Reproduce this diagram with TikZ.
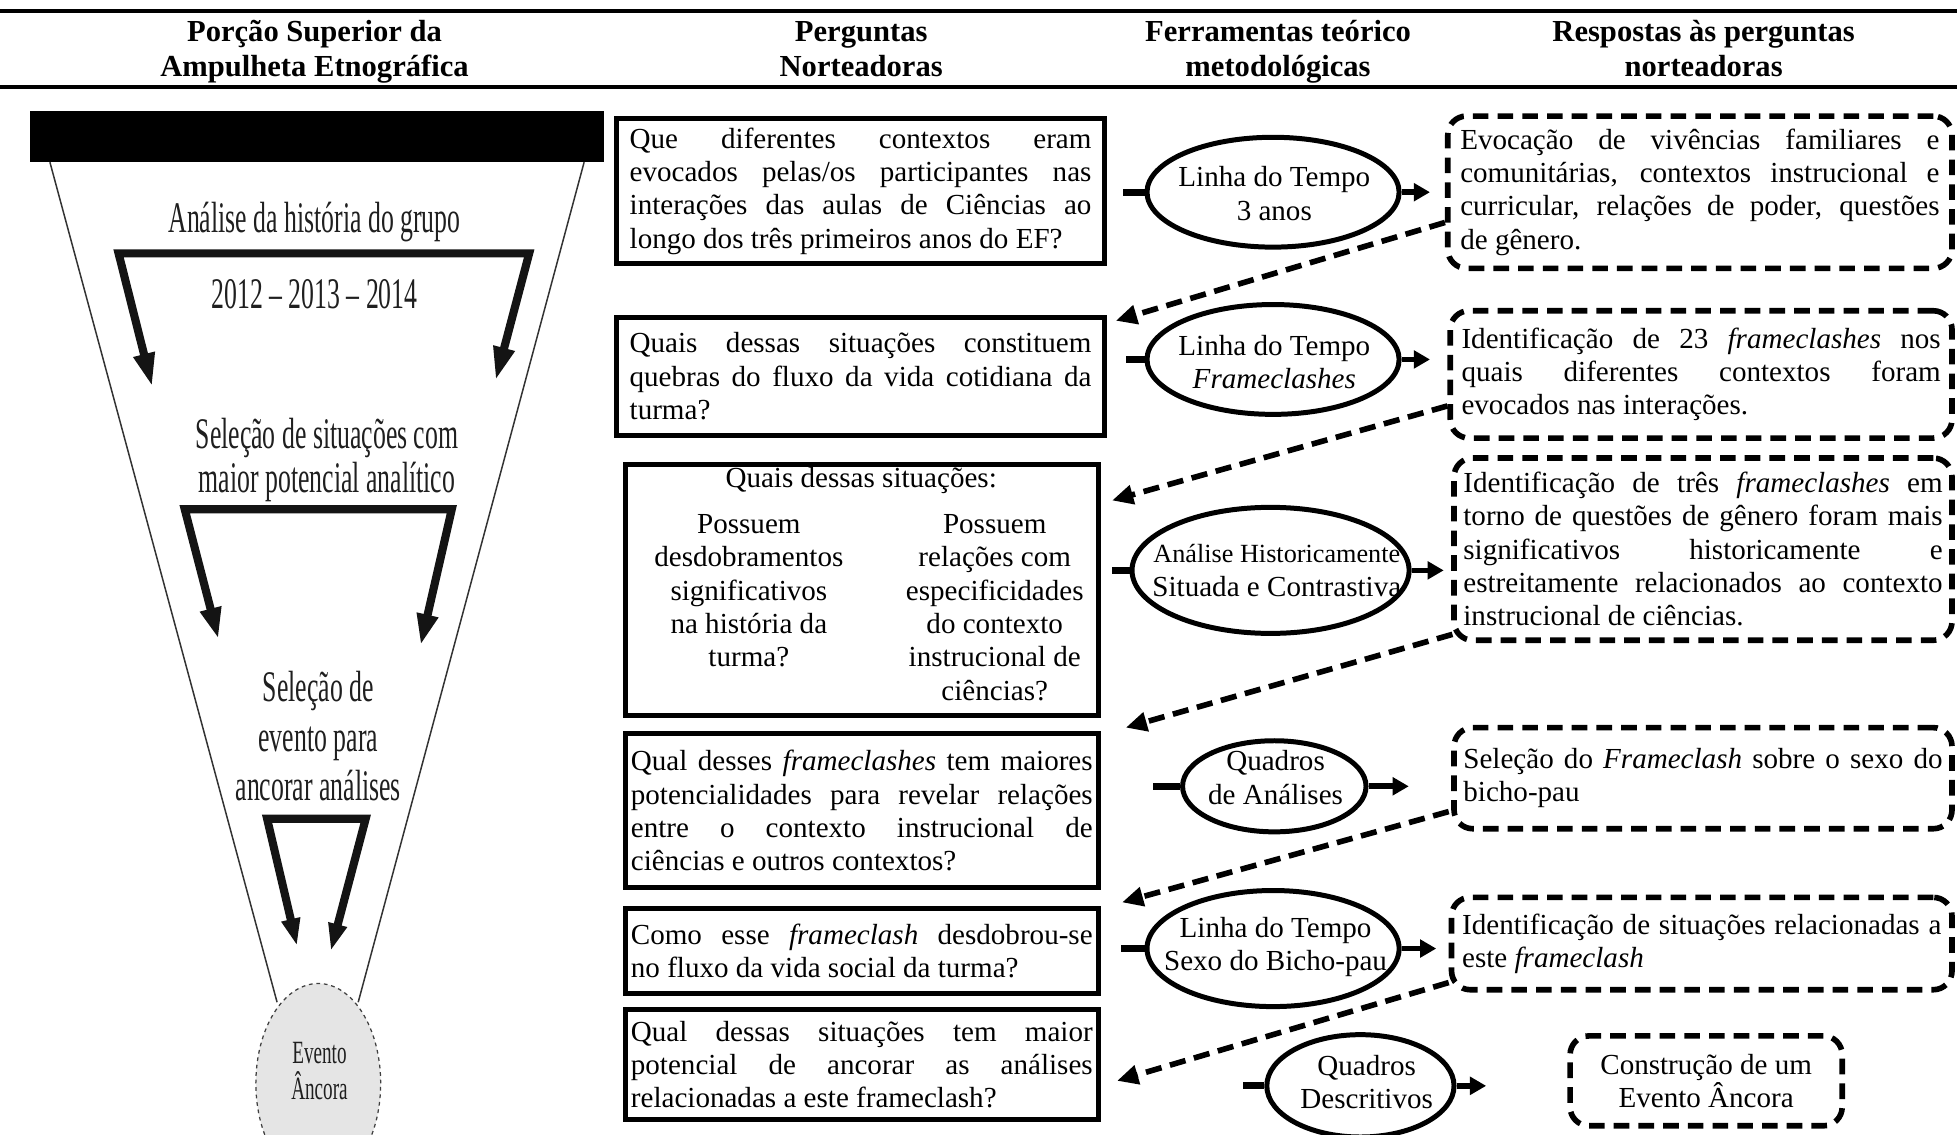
\documentclass[tikz,border=0pt]{standalone}
\usepackage{fontspec}
\setmainfont{Liberation Serif}
\newfontfamily\narrowserif[FakeStretch=0.59]{Liberation Serif}
\usetikzlibrary{arrows.meta,shapes.geometric,calc}
\newcommand\qfont{\fontsize{23.3}{26.7}\selectfont}
\newcommand\hgfont{\narrowserif\fontsize{35}{38}\selectfont}
\newcommand\hgsmall{\narrowserif\fontsize{26}{29}\selectfont}
\tolerance=10000
\hbadness=10000
\hyphenpenalty=10000
\exhyphenpenalty=10000

\begin{document}
\begin{tikzpicture}[x=1pt,y=-1pt,
  rule/.style={line width=3.4pt},
  headtext/.style={font=\bfseries\fontsize{24.5}{27.6}\selectfont, inner sep=0pt, anchor=base},
  qbox/.style={draw, line width=4pt, inner sep=0pt, text width=370pt, align=justify, font=\qfont},
  abox/.style={draw, line width=4.5pt, dash pattern=on 12.5pt off 7.3pt, rounded corners=15pt,
               inner sep=0pt, text width=384pt, align=justify, font=\qfont},
  tool/.style={draw, ellipse, line width=4pt, inner sep=0pt},
  tooltext/.style={align=center, font=\qfont, inner sep=0pt},
  stub/.style={line width=5.5pt},
  toarrow/.style={line width=4.5pt, -{Triangle[length=13pt,width=14pt]}},
  backarrow/.style={line width=4.5pt, dash pattern=on 13pt off 7pt, -{Triangle[length=17pt,width=15pt]}},
  hgtext/.style={font=\hgfont, inner sep=0pt, text=black!88, anchor=base},
  bracket/.style={line width=6.5pt, line join=miter, black!92},
]
\useasboundingbox (0,0) rectangle (1568,909);
\clip (0,0) rectangle (1568,909);

% ---------- header ----------
\draw[rule] (0,9) -- (1568,9);
\draw[rule] (0,70) -- (1568,70);
\node[headtext] (h1a) at (252,33.5) {Porção Superior da};
\node[headtext] (h1b) at (252,61) {Ampulheta Etnográfica};
\node[headtext] (h2a) at (690,33.5) {Perguntas};
\node[headtext] (h2b) at (690,61) {Norteadoras};
\node[headtext] (h3a) at (1024,33.5) {Ferramentas teórico};
\node[headtext] (h3b) at (1024,61) {metodológicas};
\node[headtext] (h4a) at (1365,33.5) {Respostas às perguntas};
\node[headtext] (h4b) at (1365,61) {norteadoras};

% ---------- upper half of the hourglass ----------
\fill (24,89) rectangle (484,130);
\draw[line width=1.2pt, black!80] (40,130) -- (222,803);
\draw[line width=1.2pt, black!80] (468,130) -- (287,803);
\node[ellipse, draw=black!75, dashed, fill=black!10, line width=1pt,
      minimum width=100pt, minimum height=160pt, inner sep=0pt] (anchorev) at (255,868) {};
\node[hgtext, font=\hgsmall] (ev1) at (256,852) {Evento};
\node[hgtext, font=\hgsmall] (ev2) at (256,881) {Âncora};

\node[hgtext] (hg1) at (252,186) {Análise da história do grupo};
\node[hgtext] (hg2) at (252,247) {2012 – 2013 – 2014};
\node[hgtext] (hg3) at (262,359) {Seleção de situações com};
\node[hgtext] (hg4) at (262,395) {maior potencial analítico};
\node[hgtext] (hg5) at (255,562) {Seleção de};
\node[hgtext] (hg6) at (255,602) {evento para};
\node[hgtext] (hg7) at (255,641) {ancorar análises};

\draw[bracket, {Triangle[length=27pt,width=16pt]}-{Triangle[length=27pt,width=16pt]}]
  (122,310) -- (95,203) -- (424,203) -- (397,305);
\draw[bracket, {Triangle[length=25pt,width=16pt]}-{Triangle[length=25pt,width=16pt]}]
  (175,512) -- (148,408) -- (362,408) -- (337,517);
\draw[bracket, {Triangle[length=22pt,width=14pt]}-{Triangle[length=22pt,width=14pt]}]
  (238,758) -- (214,656) -- (293,656) -- (265,762);

% ---------- guiding questions ----------
\node[qbox, minimum width=391pt, minimum height=116pt] (q1) at (689.5,153)
  {Que diferentes contextos eram\linebreak evocados pelas/os participantes nas\linebreak
   interações das aulas de Ciências ao\linebreak longo dos três primeiros anos do EF?};
\node[qbox, minimum width=391pt, minimum height=95pt] (q2) at (689.5,301.5)
  {Quais dessas situações constituem\linebreak quebras do fluxo da vida cotidiana da\linebreak turma?};
\node[qbox, minimum width=379pt, minimum height=201pt] (q3) at (690.5,472.5) {};
\node[tooltext] (q3t) at (690,385) {Quais dessas situações:};
\node[tooltext, anchor=north] (q3l) at (600,412)
  {Possuem\\desdobramentos\\significativos\\na história da\\turma?};
\node[tooltext, anchor=north] (q3r) at (797,412)
  {Possuem\\relações com\\especificidades\\do contexto\\instrucional de\\ciências?};
\node[qbox, minimum width=379pt, minimum height=123pt] (q4) at (690.5,649.5)
  {Qual desses \textit{frameclashes} tem maiores\linebreak potencialidades para revelar relações\linebreak
   entre o contexto instrucional de\linebreak ciências e outros contextos?};
\node[qbox, minimum width=379pt, minimum height=68pt] (q5) at (690.5,762)
  {Como esse \textit{frameclash} desdobrou-se\linebreak no fluxo da vida social da turma?};
\node[qbox, minimum width=379pt, minimum height=88pt] (q6) at (690.5,853)
  {Qual dessas situações tem maior\linebreak potencial de ancorar as análises\linebreak
   relacionadas a este frameclash?};

% ---------- theoretical-methodological tools ----------
\node[tool, minimum width=202pt, minimum height=88pt] (e1) at (1020,154) {};
\node[tooltext] (e1t) at (1021,155) {Linha do Tempo\\3 anos};
\node[tool, minimum width=202pt, minimum height=88pt] (e2) at (1020,288) {};
\node[tooltext] (e2t) at (1021,290) {Linha do Tempo\\\textit{Frameclashes}};
\node[tool, minimum width=222pt, minimum height=101pt] (e3) at (1018,457) {};
\node[tooltext] (e3t) at (1023,457)
  {{\fontsize{21}{26}\selectfont Análise Historicamente}\\Situada e Contrastiva};
\node[tool, minimum width=147pt, minimum height=73pt] (e4) at (1021,630) {};
\node[tooltext] (e4t) at (1022,623) {Quadros\\de Análises};
\node[tool, minimum width=202pt, minimum height=93pt] (e5) at (1020,760) {};
\node[tooltext] (e5t) at (1022,759) {Linha do Tempo\\Sexo do Bicho-pau};
\node[tool, minimum width=150pt, minimum height=82pt] (e6) at (1090,870) {};
\node[tooltext] (e6t) at (1095,867) {Quadros\\Descritivos};

% ---------- answers ----------
\node[abox, minimum width=404pt, minimum height=122pt] (a1) at (1362,154)
  {Evocação de vivências familiares e\linebreak comunitárias, contextos instrucional e\linebreak
   curricular, relações de poder, questões\linebreak de gênero.};
\node[abox, minimum width=402pt, minimum height=102pt] (a2) at (1363,300)
  {Identificação de 23 \textit{frameclashes} nos\linebreak quais diferentes contextos foram\linebreak
   evocados nas interações.};
\node[abox, minimum width=399pt, minimum height=146pt] (a3) at (1364.5,440)
  {Identificação de três \textit{frameclashes} em\linebreak torno de questões de gênero foram mais\linebreak
   significativos historicamente e\linebreak estreitamente relacionados ao contexto\linebreak
   instrucional de ciências.};
\node[abox, minimum width=399pt, minimum height=81pt] (a4) at (1364.5,623.5)
  {Seleção do \textit{Frameclash} sobre o sexo do\linebreak bicho-pau};
\node[abox, minimum width=401pt, minimum height=74pt] (a5) at (1363.5,756)
  {Identificação de situações relacionadas a\linebreak este \textit{frameclash}};
\node[abox, text width=, align=center, minimum width=218pt, minimum height=72pt] (a6) at (1367,866)
  {Construção de um\\Evento Âncora};

% ---------- connectors: question -> tool -> answer ----------
\draw[stub] (e1.west) -- ([xshift=-17pt]e1.west);
\draw[stub] (e2.west) -- ([xshift=-15pt]e2.west);
\draw[stub] (e3.west) -- ([xshift=-14pt]e3.west);
\draw[stub] (e4.west) -- ([xshift=-22pt]e4.west);
\draw[stub] (e5.west) -- ([xshift=-19pt]e5.west);
\draw[stub] (e6.west) -- ([xshift=-17pt]e6.west);

\draw[toarrow, shorten >=12pt] (e1.east) -- (e1.east -| a1.west);
\draw[toarrow, shorten >=14pt] (e2.east) -- (e2.east -| a2.west);
\draw[toarrow, shorten >=6pt]  (e3.east) -- (e3.east -| a3.west);
\draw[toarrow, shorten >=34pt] (e4.east) -- (e4.east -| a4.west);
\draw[toarrow, shorten >=10pt] (e5.east) -- (e5.east -| a5.west);
\draw[toarrow, shorten >=65pt] (e6.east) -- (e6.east -| a6.west);

% ---------- connectors: answer -> next question ----------
\draw[backarrow] ($(a1.south west)+(0,-39)$) -- ($(q2.north east)+(7,5)$);
\draw[backarrow] ($(a2.south west)+(0,-28)$) -- ($(q3.north east)+(9,31)$);
\draw[backarrow] ($(a3.south west)+(1,-7)$)  -- ($(q4.north east)+(20,-3)$);
\draw[backarrow] ($(a4.south west)+(-2,-16)$) -- ($(q5.north east)+(17,-3)$);
\draw[backarrow] ($(a5.south west)+(0,-8)$)  -- ($(q6.east)+(13,13)$);
\end{tikzpicture}
\end{document}
